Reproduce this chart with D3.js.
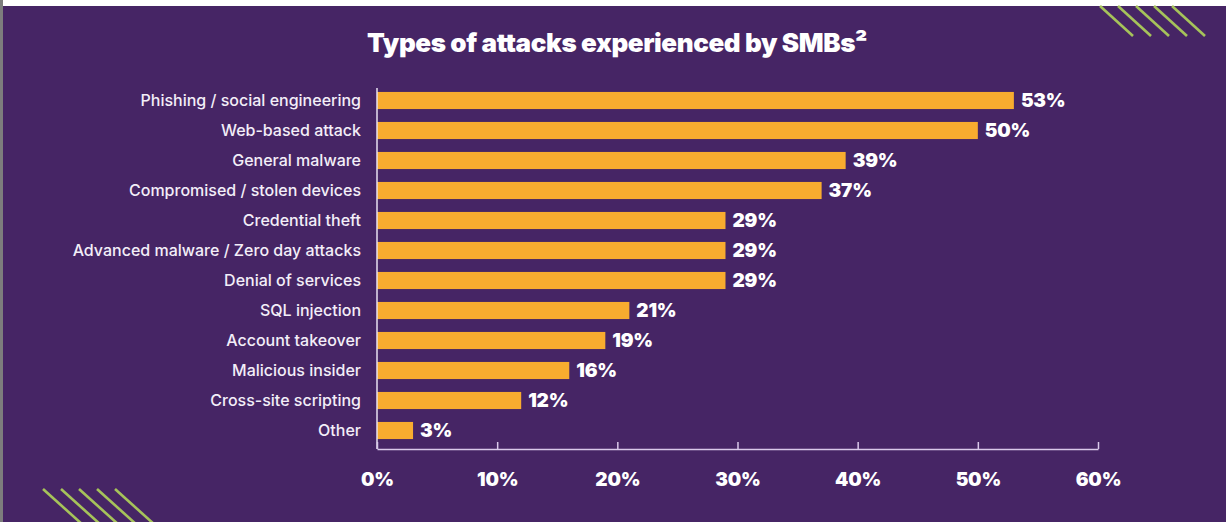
<!DOCTYPE html>
<html><head><meta charset="utf-8">
<script src="https://cdn.jsdelivr.net/npm/d3@7"></script>
<style>html,body{margin:0;padding:0;background:#fff;}svg{display:block;}</style>
</head><body>
<script>
const categories = ["Phishing / social engineering","Web-based attack","General malware","Compromised / stolen devices","Credential theft","Advanced malware / Zero day attacks","Denial of services","SQL injection","Account takeover","Malicious insider","Cross-site scripting","Other"];
const values = [53,50,39,37,29,29,29,21,19,16,12,3];
const tickValues = [0,10,20,30,40,50,60];
const title = "Types of attacks experienced by SMBs²";

const W = 1226, H = 522;
const svg = d3.select("body").append("svg").attr("width", W).attr("height", H);
svg.append("rect").attr("width", W).attr("height", H).attr("fill", "#ffffff");
svg.append("rect").attr("x", 0).attr("y", 0).attr("width", 3).attr("height", H).attr("fill", "#7d7d7d");
svg.append("rect").attr("x", 3).attr("y", 6).attr("width", W - 3).attr("height", H - 6).attr("fill", "#462565");

// decorations
const deco = svg.append("g").attr("stroke", "#a6c35a").attr("stroke-width", 2.6);
[1100, 1118, 1136, 1154, 1172].forEach(x0 => {
  deco.append("line").attr("x1", x0).attr("y1", 6).attr("x2", x0 + 33).attr("y2", 36);
});
svg.append("clipPath").attr("id", "bc").append("rect").attr("x", 3).attr("y", 6).attr("width", W).attr("height", H - 6);
const deco2 = svg.append("g").attr("clip-path", "url(#bc)").attr("stroke", "#a6c35a").attr("stroke-width", 2.6);
[43, 61, 79, 97, 115].forEach(x0 => {
  deco2.append("line").attr("x1", x0).attr("y1", 489).attr("x2", x0 + 40).attr("y2", 525);
});

svg.append("text").attr("x", 617).attr("y", 52).attr("text-anchor", "middle")
  .attr("fill", "#ffffff").attr("font-family", "Inter").attr("font-weight", 900)
  .attr("font-size", 26).attr("letter-spacing", -0.4).text(title);

const x = d3.scaleLinear().domain([0, 60]).range([377, 1098]);
const y = d3.scaleBand().domain(categories).range([85.5, 445.5]).paddingInner(0.43).paddingOuter(0.215);

// bars
svg.append("g").selectAll("rect").data(values).join("rect")
  .attr("x", x(0)).attr("y", (d, i) => y(categories[i]))
  .attr("width", d => x(d) - x(0)).attr("height", y.bandwidth())
  .attr("fill", "#f8ac2f");

// value labels
svg.append("g").selectAll("text").data(values).join("text")
  .attr("x", d => x(d) + 7).attr("y", (d, i) => y(categories[i]) + y.bandwidth() / 2)
  .attr("dy", "0.36em").attr("fill", "#ffffff").attr("font-family", "Inter")
  .attr("font-weight", 900).attr("font-size", 19).attr("letter-spacing", -0.2)
  .text(d => d + "%");

// category labels
svg.append("g").selectAll("text").data(categories).join("text")
  .attr("x", 361).attr("y", d => y(d) + y.bandwidth() / 2).attr("dy", "0.36em")
  .attr("text-anchor", "end").attr("fill", "#f3eef8").attr("font-family", "Inter")
  .attr("font-weight", 500).attr("font-size", 16).text(d => d);

// y axis line
svg.append("line").attr("x1", 377).attr("x2", 377).attr("y1", 88).attr("y2", 449)
  .attr("stroke", "#e9e0f2").attr("stroke-width", 1.5);

// x axis
const xAxis = d3.axisBottom(x).tickValues(tickValues).tickSize(-7).tickSizeOuter(0).tickPadding(0).tickFormat(d => d + "%");
const gx = svg.append("g").attr("transform", "translate(0,449)").call(xAxis);
gx.select(".domain").attr("stroke", "#d9c9ea").attr("stroke-width", 1.5);
gx.selectAll(".tick line").attr("stroke", "#d9c9ea").attr("stroke-width", 1.5);
gx.selectAll(".tick text").attr("fill", "#ffffff").attr("font-family", "Inter")
  .attr("font-weight", 900).attr("font-size", 19).attr("letter-spacing", -0.2)
  .attr("y", 30).attr("dy", "0.36em");
</script>
</body></html>
